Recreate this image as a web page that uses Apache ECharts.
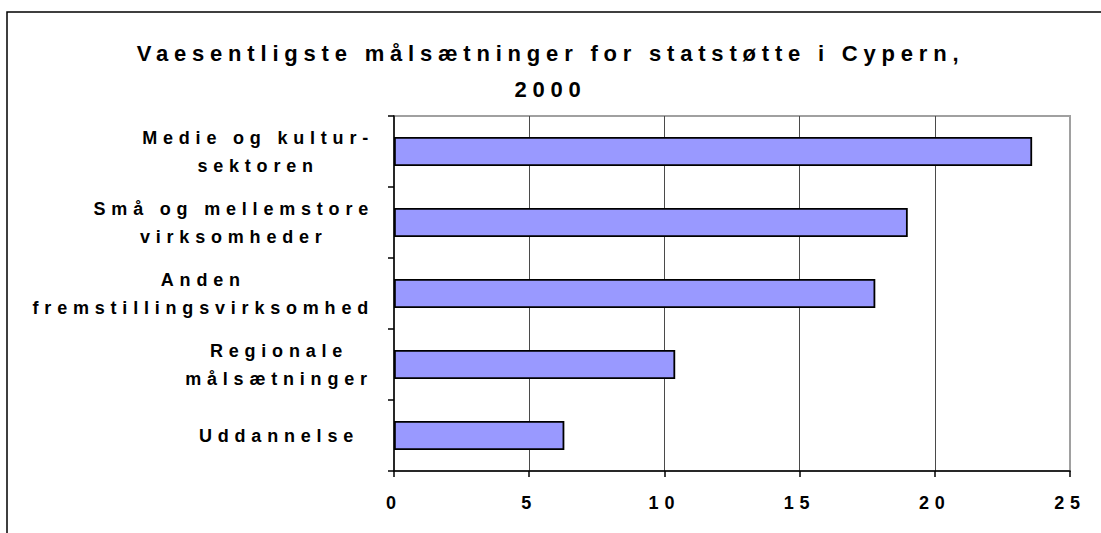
<!DOCTYPE html>
<html><head><meta charset="utf-8">
<script src="https://cdn.jsdelivr.net/npm/echarts@6/dist/echarts.min.js"></script>
<style>
html,body{margin:0;padding:0;background:#fff;}
#chart{width:1101px;height:533px;}
#chart svg text{letter-spacing:5.8px;}
</style></head><body><div id="chart"></div>
<script>
const titleText = 'Vaesentligste målsætninger for statstøtte i Cypern,\n2000';
const categories = ['Medie og kultur-\nsektoren', 'Små og mellemstore\nvirksomheder', 'Anden\nfremstillingsvirksomhed', 'Regionale\nmålsætninger', 'Uddannelse'];
const values = [23.6, 19.0, 17.8, 10.4, 6.3];
const xMin = 0, xMax = 25, xStep = 5;

const FONT = 'Liberation Sans, Arial, sans-serif';
const LS = 5.8;
const LABEL_SIZE = 18;
const ctx = document.createElement('canvas').getContext('2d');
ctx.font = 'bold ' + LABEL_SIZE + 'px ' + FONT;
const rich = {};
categories.forEach((c, i) => {
  const lines = c.split('\n');
  const w = Math.max(190, ...lines.map(l => ctx.measureText(l).width + l.length * LS));
  rich['c' + i] = {width: w, align: 'center', fontSize: LABEL_SIZE, fontWeight: 'bold', fontFamily: FONT, color: '#000', lineHeight: 28};
});

const chart = echarts.init(document.getElementById('chart'), null, {renderer: 'svg'});
chart.setOption({
  animation: false,
  backgroundColor: '#fff',
  title: {
    text: titleText, left: 'center', top: 30,
    textStyle: {fontSize: 22, fontWeight: 'bold', fontFamily: FONT, color: '#000', lineHeight: 36}
  },
  graphic: [{
    type: 'rect', silent: true, z: -10,
    shape: {x: 7, y: 12, width: 1400, height: 800},
    style: {fill: 'none', stroke: '#000', lineWidth: 1.5}
  }],
  grid: {left: 394, right: 31, top: 116, bottom: 62, show: true, borderColor: '#a0a0a0', borderWidth: 2, backgroundColor: 'transparent'},
  xAxis: {
    type: 'value', min: xMin, max: xMax, interval: xStep,
    axisLine: {show: true, lineStyle: {color: '#000', width: 1.5}},
    axisTick: {show: true, length: 6, lineStyle: {color: '#000', width: 1.5}},
    axisLabel: {margin: 23, fontSize: 18, fontWeight: 'bold', fontFamily: FONT, color: '#000'},
    splitLine: {show: true, showMinLine: false, showMaxLine: false, lineStyle: {color: '#4a4a4a', width: 1}}
  },
  yAxis: {
    type: 'category', data: categories, inverse: true,
    axisLine: {show: true, lineStyle: {color: '#000', width: 1.5}},
    axisTick: {show: true, length: 6, lineStyle: {color: '#000', width: 1.5}},
    axisLabel: {
      margin: 20, interval: 0,
      formatter: (v, i) => v.split('\n').map(l => '{c' + i + '|' + l + '}').join('\n'),
      rich: rich
    },
    splitLine: {show: false}
  },
  series: [{
    type: 'bar', data: values, barWidth: 29,
    itemStyle: {color: '#9999FF', borderColor: '#000', borderWidth: 1.8}
  }]
});
</script></body></html>
